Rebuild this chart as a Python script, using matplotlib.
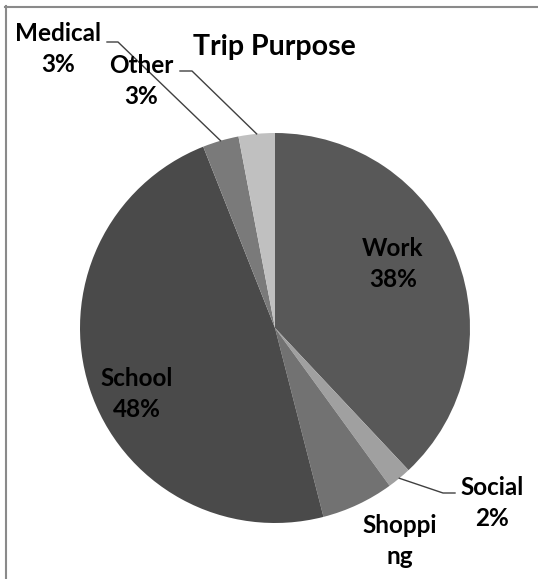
import numpy as np
import matplotlib
matplotlib.use("Agg")
import matplotlib.pyplot as plt
from matplotlib.lines import Line2D

purposes = ["Work", "Social", "Shopping", "School", "Medical", "Other"]
shares = [38, 2, 6, 48, 3, 3]
colors = ["#585858", "#a0a0a0", "#727272", "#4a4a4a", "#7a7a7a", "#c0c0c0"]
label_text = ["Work\n38%", "Social\n2%", "Shoppi\nng", "School\n48%", "Medical\n3%", "Other\n3%"]

W, H = 538, 579
plt.rcParams['font.family'] = ['Lato', 'DejaVu Sans']

fig = plt.figure(figsize=(W / 100, H / 100), dpi=100)
ax = fig.add_axes([0, 0, 1, 1])

cx, cy, r = 275, H - 328, 195
wedges, _ = ax.pie(shares, colors=colors, startangle=90, counterclock=False,
                   center=(cx, cy), radius=r, frame=True,
                   wedgeprops=dict(linewidth=0))
ax.set_xlim(0, W)
ax.set_ylim(0, H)
ax.set_aspect('equal')
ax.axis('off')

# label positions in pixel coords (x, y from top)
label_pos = {
    "Work": (393, 264),
    "Social": (492, 503),
    "Shopping": (400, 541),
    "School": (137, 394),
    "Medical": (58, 49),
    "Other": (141, 81),
}
# leader line elbows (label end, bend point)
leaders = {
    "Medical": [(107, 42), (118, 42)],
    "Other": [(180, 71), (192, 71)],
    "Social": [(455, 493), (443, 493)],
}

for w, name, txt in zip(wedges, purposes, label_text):
    x, y = label_pos[name]
    ax.text(x, H - y, txt, ha='center', va='center', fontsize=17.5,
            fontweight='bold', color='black', linespacing=1.38)
    if name in leaders:
        mid = np.deg2rad((w.theta1 + w.theta2) / 2)
        ex, ey = cx + r * np.cos(mid), cy + r * np.sin(mid)
        pts = leaders[name]
        xs = [p[0] for p in pts] + [ex]
        ys = [H - p[1] for p in pts] + [ey]
        ax.plot(xs, ys, color='#404040', lw=1)

ax.text(274, H - 47, "Trip Purpose", ha='center', va='center',
        fontsize=20.5, fontweight='bold', color='black')

# chart border (only top and left visible)
fig.add_artist(Line2D([5 / W, 1], [1 - 6.5 / H, 1 - 6.5 / H], color='#8a8a8a', lw=1.5))
fig.add_artist(Line2D([5.5 / W, 5.5 / W], [0, 1 - 6 / H], color='#8a8a8a', lw=1.5))

fig.savefig("out.png", dpi=100)
